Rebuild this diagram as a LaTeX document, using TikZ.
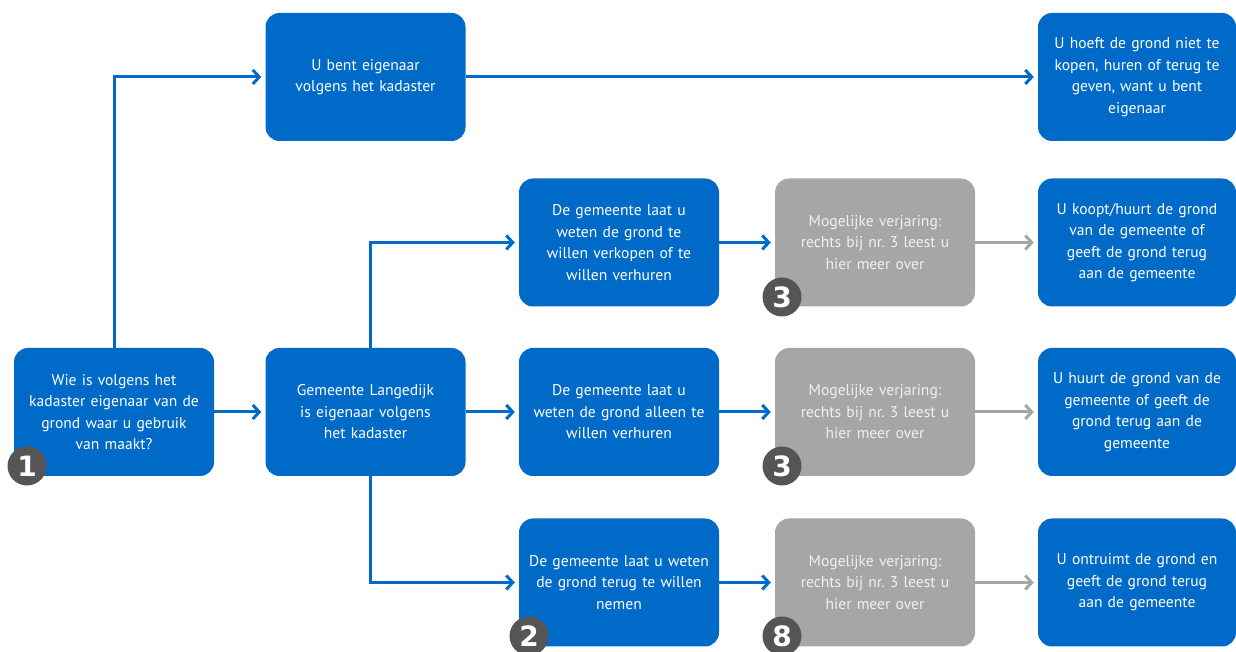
\documentclass[tikz,border=0pt]{standalone}
\usepackage{fontspec}
\setmainfont{PT Sans}
\newfontfamily\badgefont{DejaVu Sans}
\usetikzlibrary{arrows.meta}
\definecolor{kblue}{RGB}{0,106,200}
\definecolor{kgray}{RGB}{166,166,166}
\definecolor{kbadge}{RGB}{85,85,85}
\definecolor{ktext}{RGB}{240,240,240}
\begin{document}
\begin{tikzpicture}[x=1pt,y=1pt,
  box/.style={fill=kblue, rounded corners=14pt, minimum width=200pt, minimum height=128pt,
    text width=196pt, align=center, text=white, inner sep=0pt,
    font=\fontsize{15.6}{21.5}\selectfont},
  gbox/.style={box, fill=kgray, text=ktext},
  conn/.style={draw=kblue, line width=3pt, shorten >=4pt,
    -{Straight Barb[length=6.5pt,width=14pt,line width=3pt]}},
  gconn/.style={conn, draw=kgray},
  badge/.style={circle, fill=kbadge, minimum size=39pt, inner sep=0pt, text=white,
    font=\badgefont\bfseries\fontsize{28}{28}\selectfont}]
\useasboundingbox (0,0) rectangle (1236,652);

\node[box] (A) at (114,240) {Wie is volgens het\\kadaster eigenaar van de\\grond waar u gebruik\\van maakt?};
\node[box] (B) at (365.5,575) {U bent eigenaar\\volgens het kadaster};
\node[box] (C) at (365.5,240) {Gemeente Langedijk\\is eigenaar volgens\\het kadaster};
\node[box] (D1) at (619,409.5) {De gemeente laat u\\weten de grond te\\willen verkopen of te\\willen verhuren};
\node[box] (D2) at (619,240) {De gemeente laat u\\weten de grond alleen te\\willen verhuren};
\node[box] (D3) at (619,69.5) {De gemeente laat u weten\\de grond terug te willen\\nemen};
\node[gbox] (E1) at (875,409.5) {Mogelijke verjaring:\\rechts bij nr.\ 3 leest u\\hier meer over};
\node[gbox] (E2) at (875,240) {Mogelijke verjaring:\\rechts bij nr.\ 3 leest u\\hier meer over};
\node[gbox] (E3) at (875,69.5) {Mogelijke verjaring:\\rechts bij nr.\ 3 leest u\\hier meer over};
\node[box, minimum width=198pt] (F0) at (1137,575) {U hoeft de grond niet te\\kopen, huren of terug te\\geven, want u bent\\eigenaar};
\node[box, minimum width=198pt] (F1) at (1137,409.5) {U koopt/huurt de grond\\van de gemeente of\\geeft de grond terug\\aan de gemeente};
\node[box, minimum width=198pt] (F2) at (1137,240) {U huurt de grond van de\\gemeente of geeft de\\grond terug aan de\\gemeente};
\node[box, minimum width=198pt] (F3) at (1137,69.5) {U ontruimt de grond en\\geeft de grond terug\\aan de gemeente};

\draw[conn] (A.north) |- (B.west);
\draw[conn] (A.east) -- (C.west);
\draw[conn] (B.east) -- (F0.west);
\draw[conn] ([xshift=4.5pt]C.north) |- (D1.west);
\draw[conn] (C.east) -- (D2.west);
\draw[conn] ([xshift=4.5pt]C.south) |- (D3.west);
\draw[conn] (D1.east) -- (E1.west);
\draw[conn] (D2.east) -- (E2.west);
\draw[conn] (D3.east) -- (E3.west);
\draw[gconn] (E1.east) -- (F1.west);
\draw[gconn] (E2.east) -- (F2.west);
\draw[gconn] (E3.east) -- (F3.west);

\node[badge] (b1) at (27,186) {1};
\node[badge] (b2) at (529,16) {2};
\node[badge] (b3a) at (782,355) {3};
\node[badge] (b3b) at (782,186) {3};
\node[badge] (b8) at (782,16) {8};
\end{tikzpicture}
\end{document}
